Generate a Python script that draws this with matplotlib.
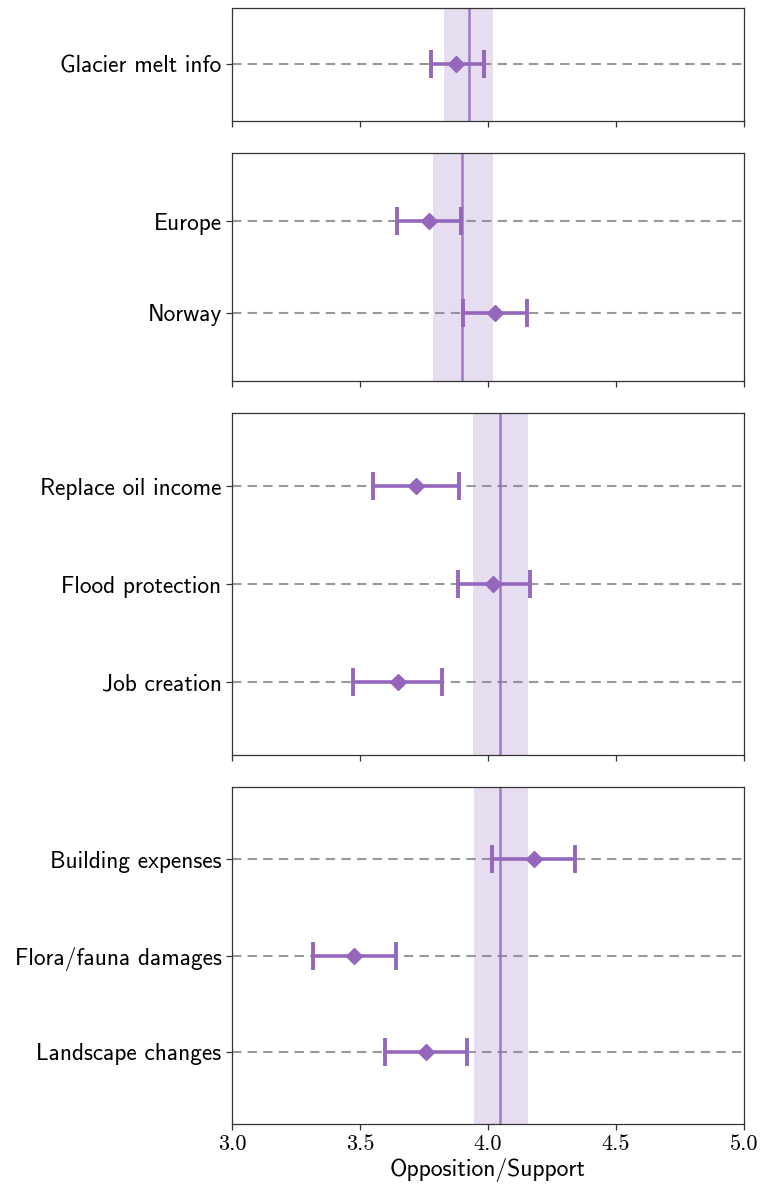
import matplotlib
matplotlib.use("Agg")
import matplotlib.pyplot as plt
from matplotlib.ticker import FixedLocator

# Mean score per item, with 95% interval bounds
groups = [
    ["Glacier melt info"],
    ["Europe", "Norway"],
    ["Replace oil income", "Flood protection", "Job creation"],
    ["Building expenses", "Flora/fauna damages", "Landscape changes"],
]
means = [
    [3.875],
    [3.77, 4.027],
    [3.719, 4.02, 3.648],
    [4.18, 3.477, 3.758],
]
lower = [
    [3.777],
    [3.645, 3.902],
    [3.55, 3.883, 3.473],
    [4.016, 3.316, 3.598],
]
upper = [
    [3.984],
    [3.895, 4.152],
    [3.887, 4.164, 3.82],
    [4.34, 3.64, 3.918],
]
# Reference (control) mean and its interval per panel
ref_mean = [3.926, 3.898, 4.047, 4.047]
ref_low = [3.828, 3.785, 3.941, 3.945]
ref_high = [4.02, 4.02, 4.156, 4.156]

xticks = [3.0, 3.5, 4.0, 4.5, 5.0]
xlabel = "Opposition/Support"

purple = "#9467bd"
SANS = "cmss10"
SERIF = "cmr10"

fig = plt.figure(figsize=(7.62, 11.91), dpi=100)
gs = fig.add_gridspec(
    4, 1, height_ratios=[113, 228, 342, 337],
    left=232 / 762, right=744 / 762, top=1 - 8 / 1191, bottom=1 - 1124 / 1191,
    hspace=0.126,
)

for i, labels in enumerate(groups):
    ax = fig.add_subplot(gs[i])
    n = len(labels)
    ypos = list(range(n))
    ax.axvspan(ref_low[i], ref_high[i], color=purple, alpha=0.22, lw=0, zorder=1)
    ax.axvline(ref_mean[i], color=purple, alpha=0.85, lw=1.8, zorder=2)
    for y in ypos:
        ax.axhline(y, color="#999999", lw=1.5, ls=(0, (4.5, 3)), zorder=0)
    m = means[i]
    xerr = [[m[k] - lower[i][k] for k in range(n)],
            [upper[i][k] - m[k] for k in range(n)]]
    ax.errorbar(m, ypos, xerr=xerr, fmt="D", color=purple, ms=8.5,
                elinewidth=2.6, capsize=10, capthick=2.8, zorder=3)
    ax.set_xlim(3.0, 5.0)
    ax.set_ylim(n - 0.25, -0.75)
    ax.xaxis.set_major_locator(FixedLocator(xticks))
    ax.set_yticks(ypos)
    ax.set_yticklabels(labels, fontfamily=SANS, fontsize=16.8)
    if i == len(groups) - 1:
        ax.set_xticklabels([f"{t:.1f}" for t in xticks], fontfamily=SERIF, fontsize=16)
        ax.set_xlabel(xlabel, fontfamily=SANS, fontsize=17, labelpad=3)
    else:
        ax.set_xticklabels([])
    ax.tick_params(axis="both", direction="out", length=4, width=0.9, color="#333333")
    for s in ax.spines.values():
        s.set_linewidth(0.9)
        s.set_color("#333333")

fig.savefig("out.png", dpi=100)
